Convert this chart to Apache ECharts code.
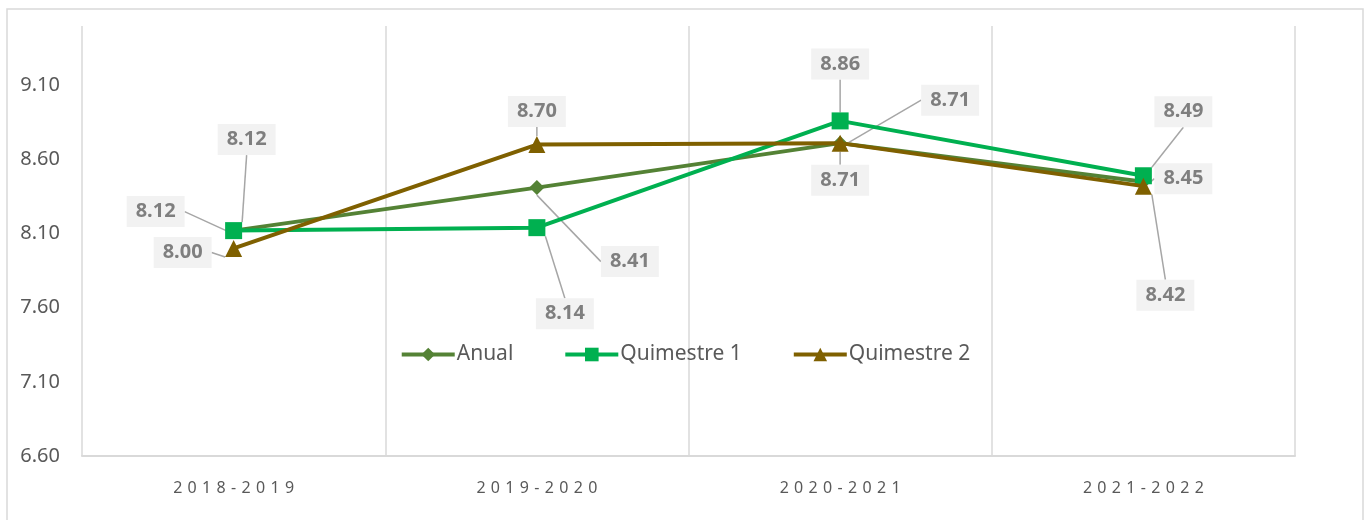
<!DOCTYPE html>
<html>
<head>
<meta charset="utf-8">
<script src="https://cdn.jsdelivr.net/npm/echarts@6/dist/echarts.min.js"></script>
<style>
html,body{margin:0;padding:0;background:#fff;}
#chart{width:1370px;height:520px;}
</style>
</head>
<body>
<div id="chart"></div>
<script>
const categories = ['2018-2019', '2019-2020', '2020-2021', '2021-2022'];
const anual = [8.12, 8.41, 8.71, 8.45];
const quimestre1 = [8.12, 8.14, 8.86, 8.49];
const quimestre2 = [8.00, 8.70, 8.71, 8.42];
const yTicks = { min: 6.6, max: 9.5, interval: 0.5 };

// label displacement (px) from each marker, per series
const labelShift = [
  [[-78, -19], [93, 74], [110, -43], [40, -3]],
  [[13, -91], [28, 86], [0, -57], [40, -64]],
  [[-51, 4], [0, -33], [0, 37], [22, 109]]
];

const chart = echarts.init(document.getElementById('chart'));
const FONT = 'Noto Sans';
const labelStyle = {
  show: true,
  position: 'inside',
  formatter: p => p.value.toFixed(2),
  fontFamily: FONT,
  fontSize: 20,
  fontWeight: 'bold',
  color: '#7f7f7f',
  backgroundColor: '#f2f2f2',
  padding: [6, 9, 5, 9]
};
const labelLine = { show: true, lineStyle: { color: '#a6a6a6', width: 1.5 } };
function mk(name, data, color, symbol, size, idx) {
  return {
    name, type: 'line', data, symbol, symbolSize: size,
    lineStyle: { color, width: 4 },
    itemStyle: { color },
    label: labelStyle,
    labelLine,
    labelLayout: p => ({ dx: labelShift[idx][p.dataIndex][0], dy: labelShift[idx][p.dataIndex][1] }),
    z: 2 + idx
  };
}
const spaced = s => s.split('').join('\u2004');

chart.setOption({
  animation: false,
  grid: { left: 82, right: 75, top: 26, bottom: 64 },
  graphic: [{
    type: 'rect', shape: { x: 7, y: 9, width: 1356, height: 540 },
    style: { fill: 'none', stroke: '#d9d9d9', lineWidth: 1.5 }, silent: true
  }],
  legend: {
    top: 339, left: 'center', itemGap: 50, itemWidth: 53, itemHeight: 17,
    lineStyle: { width: 4 },
    textStyle: { fontFamily: FONT, fontSize: 21, color: '#595959', padding: [0, 0, 0, -3] },
    data: ['Anual', 'Quimestre 1', 'Quimestre 2']
  },
  xAxis: {
    type: 'category', data: categories, boundaryGap: true,
    axisLine: { show: true, lineStyle: { color: '#d9d9d9', width: 2 } },
    axisTick: { show: false },
    splitLine: { show: true, lineStyle: { color: '#d9d9d9', width: 1.5 } },
    axisLabel: { margin: 24, fontFamily: FONT, fontSize: 16, color: '#595959', formatter: spaced }
  },
  yAxis: {
    type: 'value', min: yTicks.min, max: yTicks.max, interval: yTicks.interval,
    axisLine: { show: false }, axisTick: { show: false }, splitLine: { show: false },
    axisLabel: { margin: 22, fontFamily: FONT, fontSize: 20, color: '#595959', showMaxLabel: false,
      formatter: v => v.toFixed(2) }
  },
  series: [
    mk('Anual', anual, '#548235', 'diamond', 15, 0),
    mk('Quimestre 1', quimestre1, '#00b050', 'rect', 17, 1),
    mk('Quimestre 2', quimestre2, '#7f6000', 'triangle', 17, 2)
  ]
});
</script>
</body>
</html>
